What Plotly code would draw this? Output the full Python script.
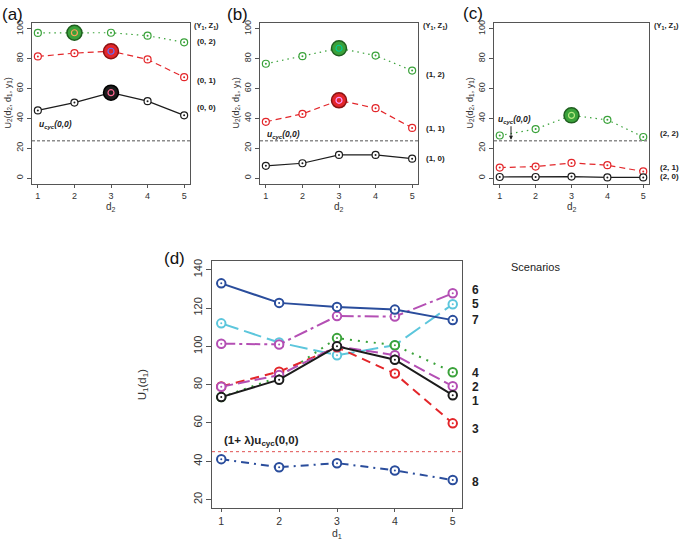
import plotly.graph_objects as go

W, H = 680, 541
def px(x): return x / W
def py(y): return 1 - y / H

# ---------------- data ----------------
d2 = [1, 2, 3, 4, 5]
d1 = [1, 2, 3, 4, 5]

# panel (a): Y1 = 0
a_z2 = [97.3, 97.4, 97.4, 95.4, 91.0]
a_z1 = [81.5, 83.7, 85.0, 79.5, 67.6]
a_z0 = [45.3, 50.6, 57.2, 51.5, 42.0]
# panel (b): Y1 = 1
b_z2 = [76.6, 81.7, 87.0, 82.1, 72.0]
b_z1 = [37.7, 43.0, 52.1, 46.8, 33.6]
b_z0 = [8.2, 9.9, 15.5, 15.5, 13.0]
# panel (c): Y1 = 2
c_z2 = [28.5, 32.8, 42.0, 39.0, 27.5]
c_z1 = [7.0, 7.7, 10.1, 8.6, 4.4]
c_z0 = [0.7, 0.7, 1.0, 0.4, 0.4]

u_cyc = 25.0
group_labels_a = ["(0, 2)", "(0, 1)", "(0, 0)"]
group_labels_b = ["(1, 2)", "(1, 1)", "(1, 0)"]
group_labels_c = ["(2, 2)", "(2, 1)", "(2, 0)"]
label_y_a = [91.4, 65.6, 47.0]
label_y_b = [69.5, 32.9, 13.0]
label_y_c = [30.0, 7.3, 0.9]
# index of the optimal d2 marked with big symbol (None = not marked)
best_a = [1, 2, 2]
best_b = [2, 2, None]
best_c = [2, None, None]

# panel (d): scenarios
s1 = [73.5, 82.6, 100.0, 93.0, 74.5]
s2 = [78.9, 85.0, 100.0, 95.4, 79.2]
s3 = [79.0, 86.8, 99.5, 85.8, 59.8]
s4 = [73.5, 84.0, 104.3, 100.6, 86.5]
s5 = [112.0, 102.0, 95.4, 100.6, 122.0]
s6 = [101.4, 101.0, 115.8, 115.6, 127.7]
s7 = [132.9, 122.7, 120.6, 119.2, 113.7]
s8 = [41.1, 36.9, 39.0, 35.2, 30.2]
lam_ucyc = 45.0
scenario_names = ["6", "5", "7", "4", "2", "1", "3", "8"]
scenario_label_y = [129.2, 121.9, 113.8, 86.1, 79.0, 71.7, 56.8, 29.3]

# ---------------- styles ----------------
BLACK = "#1c1c1c"
RED = "#e3262a"
GREEN = "#3aa23a"
CYAN = "#5cc6dc"
MAGENTA = "#b44fb4"
DBLUE = "#2a4d9c"
DARK = {GREEN: "#1f5e1f", RED: "#8a1212", BLACK: "#000000"}

fig = go.Figure()

def add_series(xa, ya, x, y, color, dash, width, msize, mlw, best=None):
    fig.add_trace(go.Scatter(x=x, y=y, xaxis=xa, yaxis=ya, mode="lines",
                             line=dict(color=color, dash=dash, width=width),
                             hoverinfo="skip", showlegend=False))
    fig.add_trace(go.Scatter(x=x, y=y, xaxis=xa, yaxis=ya, mode="markers",
                             marker=dict(symbol="circle", size=msize, color="white",
                                         line=dict(color=color, width=mlw)),
                             hoverinfo="skip", showlegend=False))
    fig.add_trace(go.Scatter(x=x, y=y, xaxis=xa, yaxis=ya, mode="markers",
                             marker=dict(symbol="circle", size=2, color=color,
                                         line=dict(width=0)),
                             hoverinfo="skip", showlegend=False))
    if best is not None:
        bx, by = [x[best]], [y[best]]
        fig.add_trace(go.Scatter(x=bx, y=by, xaxis=xa, yaxis=ya, mode="markers",
                                 marker=dict(symbol="circle", size=15, color=color,
                                             line=dict(color=DARK.get(color, "#000"), width=1.5)),
                                 hoverinfo="skip", showlegend=False))
        fig.add_trace(go.Scatter(x=bx, y=by, xaxis=xa, yaxis=ya, mode="markers",
                                 marker=dict(symbol="circle-open", size=6,
                                             line=dict(color="white", width=1.2)),
                                 hoverinfo="skip", showlegend=False))
        fig.add_trace(go.Scatter(x=bx, y=by, xaxis=xa, yaxis=ya, mode="markers",
                                 marker=dict(symbol="circle", size=2.5, color=color,
                                             line=dict(width=0)),
                                 hoverinfo="skip", showlegend=False))

small_dash = {"dot": "1.5px,4px", "dash": "6px,4px", "solid": "solid"}
panels = [
    ("x", "y", [a_z2, a_z1, a_z0], best_a),
    ("x2", "y2", [b_z2, b_z1, b_z0], best_b),
    ("x3", "y3", [c_z2, c_z1, c_z0], best_c),
]
for xa, ya, series, best in panels:
    for vals, col, ds, bi in zip(series, [GREEN, RED, BLACK],
                                 [small_dash["dot"], small_dash["dash"], "solid"], best):
        add_series(xa, ya, d2, vals, col, ds, 1.2, 7, 1.2, bi)

dash_d = {
    "1": "solid", "2": "12px,5px", "3": "9px,6px", "4": "2px,6px",
    "5": "18px,6px", "6": "14px,4px,3px,4px", "7": "solid", "8": "8px,5px,2px,5px",
}
for vals, col, key in [(s8, DBLUE, "8"), (s5, CYAN, "5"), (s6, MAGENTA, "6"),
                       (s7, DBLUE, "7"), (s4, GREEN, "4"), (s3, RED, "3"),
                       (s2, MAGENTA, "2"), (s1, BLACK, "1")]:
    add_series("x4", "y4", d1, vals, col, dash_d[key], 2, 8.5, 2)

# ---------------- axes ----------------
axis_common = dict(showline=True, mirror=True, linecolor="#555", linewidth=1,
                   ticks="outside", tickcolor="#555", showgrid=False, zeroline=False)
small_font = dict(family="Liberation Sans, Arial, sans-serif", size=9, color="#333")
big_font = dict(family="Liberation Sans, Arial, sans-serif", size=11, color="#333")
xbig_font = dict(family="Liberation Sans, Arial, sans-serif", size=10.5, color="#333")

doms = [(32, 190), (260, 418), (494, 649)]
layout = dict(width=W, height=H, margin=dict(l=0, r=0, t=0, b=0),
              paper_bgcolor="white", plot_bgcolor="white", showlegend=False)
for i, (l, r) in enumerate(doms):
    sx = "" if i == 0 else str(i + 1)
    layout["xaxis" + sx] = dict(domain=[px(l), px(r)], range=[0.84, 5.16], anchor="y" + sx,
                                tickvals=d2, ticklen=3, tickfont=small_font, **axis_common)
    layout["yaxis" + sx] = dict(domain=[py(182), py(20)], range=[-4, 104], anchor="x" + sx,
                                tickvals=[0, 20, 40, 60, 80, 100], ticklen=4, tickangle=-90,
                                tickfont=small_font, **axis_common)
layout["xaxis4"] = dict(domain=[px(212), px(462)], range=[0.84, 5.16], anchor="y4",
                        tickvals=d1, ticklen=3, tickfont=xbig_font, **axis_common)
layout["yaxis4"] = dict(domain=[py(508), py(259)], range=[15.5, 144.8], anchor="x4",
                        tickvals=[20, 40, 60, 80, 100, 120, 140], ticklen=5, tickangle=-90,
                        tickfont=big_font, **axis_common)
fig.update_layout(**layout)

# ---------------- reference lines ----------------
for sx in ["", "2", "3"]:
    fig.add_shape(type="line", xref="x" + sx + " domain", yref="y" + sx,
                  x0=0, x1=1, y0=u_cyc, y1=u_cyc,
                  line=dict(color="#8c8c8c", width=1.5, dash="3px,2px"))
fig.add_shape(type="line", xref="x4 domain", yref="y4", x0=0, x1=1,
              y0=lam_ucyc, y1=lam_ucyc, line=dict(color="#e05050", width=1, dash="3px,3px"))

# ---------------- annotations ----------------
ann = []
def A(text, x, y, size, xanchor="center", bold=False, italic=False, angle=0, color="#222", **kw):
    t = text
    if italic:
        t = "<i>" + t + "</i>"
    if bold:
        t = "<b>" + t + "</b>"
    ann.append(dict(text=t, x=x, y=y, xref=kw.pop("xref", "paper"), yref=kw.pop("yref", "paper"),
                    showarrow=False, xanchor=xanchor, yanchor="middle", textangle=angle,
                    font=dict(family="Liberation Sans, Arial, sans-serif", size=size, color=color), **kw))

# panel letters
for t, x, y in [("(a)", 12, 12), ("(b)", 238, 12), ("(c)", 473, 11), ("(d)", 174, 257)]:
    A(t, px(x), py(y), 17, color="#111")

ylab2 = "U<sub>2</sub>(d<sub>2</sub>, d<sub>1</sub>, y<sub>1</sub>)"
for (l, r), ylx in zip(doms, [8, 236, 470]):
    A(ylab2, px(ylx), py(101), 9, angle=-90, color="#333")
    A("d<sub>2</sub>", px((l + r) / 2), py(205), 10, color="#333")

# right-side group labels
for sx, hx, lx, labs, ys in [("", 192, 195, group_labels_a, label_y_a),
                             ("2", 421, 424, group_labels_b, label_y_b),
                             ("3", 652, 658, group_labels_c, label_y_c)]:
    A("(Y<sub>1</sub>, Z<sub>1</sub>)", px(hx), py(23), 7.5, xanchor="left", bold=True)
    for lab, yv in zip(labs, ys):
        A(lab, px(lx), yv, 8, xanchor="left", bold=True, yref="y" + sx)

ucyc_txt = "u<sub>cyc</sub>(0,0)"
A(ucyc_txt, px(37), py(122), 8.5, xanchor="left", bold=True, italic=True)
A(ucyc_txt, px(265), py(132), 8.5, xanchor="left", bold=True, italic=True)
A(ucyc_txt, px(496), py(117), 8.5, xanchor="left", bold=True, italic=True)
ann.append(dict(text="", x=px(511), y=py(137.5), xref="paper", yref="paper",
                ax=0, ay=-15, axref="pixel", ayref="pixel", showarrow=True,
                arrowhead=2, arrowsize=0.8, arrowwidth=1, arrowcolor="#222"))

# panel (d)
A("U<sub>1</sub>(d<sub>1</sub>)", px(143), py(383.5), 11.5, angle=-90, color="#333")
A("d<sub>1</sub>", px(337), py(533.5), 10.5, color="#333")
A("(1+ λ)u<sub>cyc</sub>(0,0)", px(222), py(440), 11.5, xanchor="left", bold=True)
A("Scenarios", px(535), py(265), 11, color="#222")
for nm, yv in zip(scenario_names, scenario_label_y):
    A(nm, px(470), yv, 12, xanchor="left", bold=True, yref="y4")

fig.update_layout(annotations=ann)
fig.write_html("out.html", config={"displayModeBar": False},
               post_script="document.body.style.margin='0';document.body.style.overflow='hidden';")
